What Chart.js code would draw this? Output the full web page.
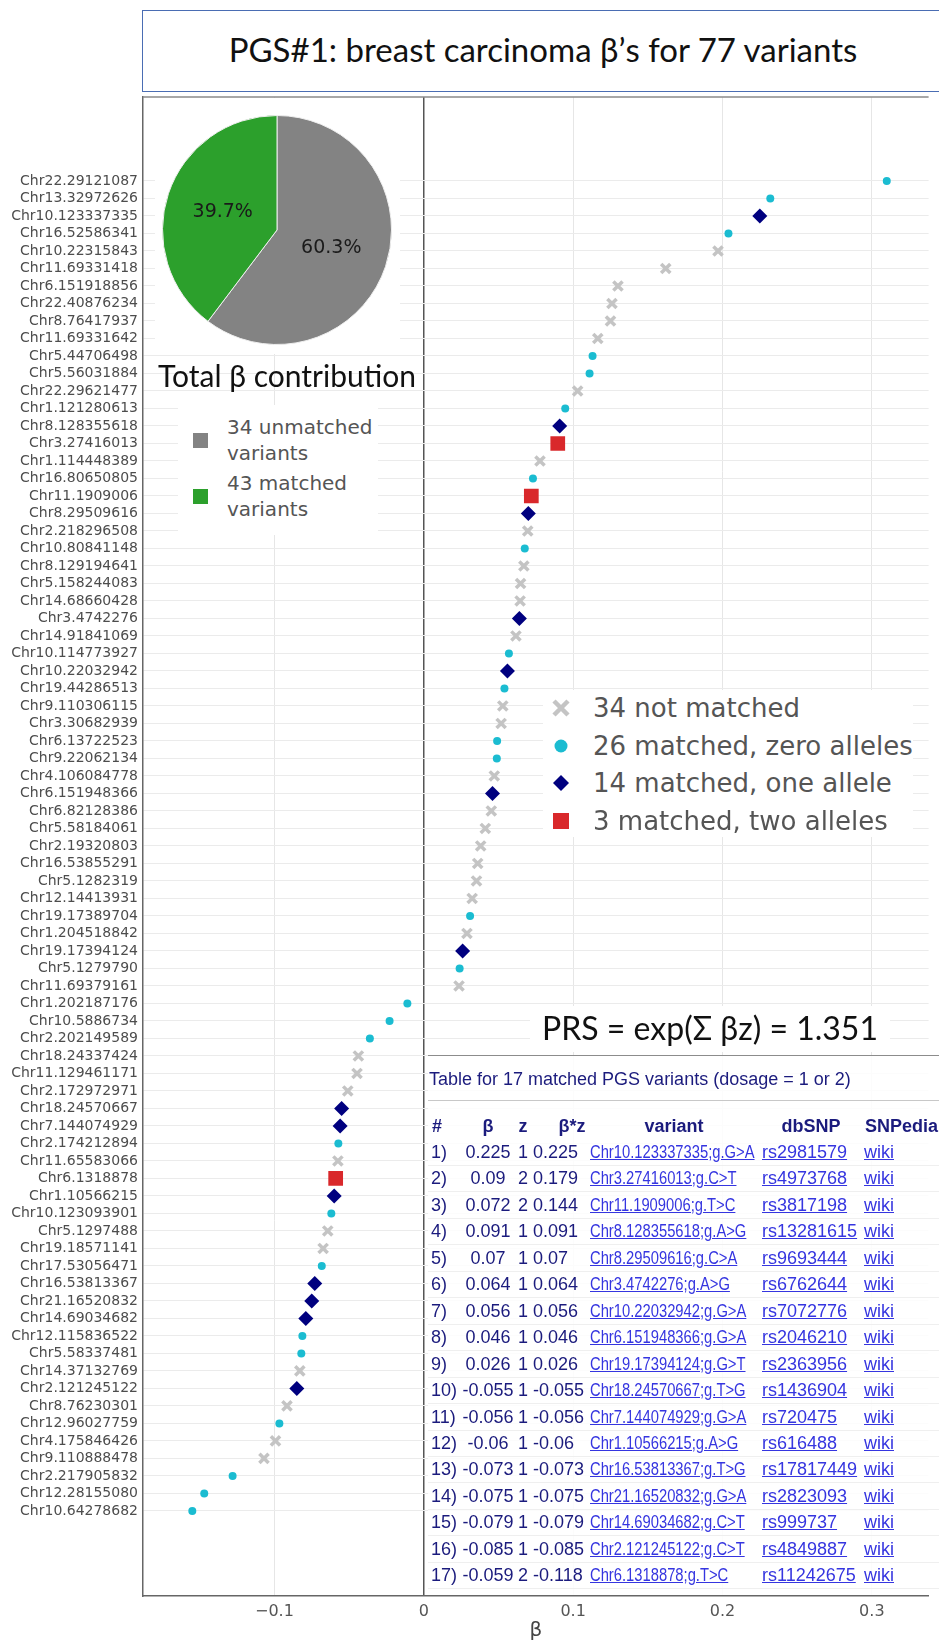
<!DOCTYPE html>
<html>
<head>
<meta charset="utf-8">
<script src="https://cdn.jsdelivr.net/npm/chart.js@4.4.0/dist/chart.umd.min.js"></script>
<style>
    body { margin: 0; background: #fff; }
    #page { position: relative; width: 939px; height: 1643px; overflow: hidden; background: #fff; }
    #beta_chart { position: absolute; left: 0; top: 0; }
    .box { position: absolute; background: #fff; }
    .calibri { font-family: Lato, "Open Sans", "Noto Sans", sans-serif; color: #111; white-space: nowrap; position: absolute; text-align: center; }
    .verdana { font-family: "DejaVu Sans", Verdana, sans-serif; color: #555; white-space: nowrap; position: absolute; }
    .tbl { position: absolute; font-family: "Liberation Sans", Arial, sans-serif; font-size: 18px; color: #1b1b7d; white-space: nowrap; height: 24px; line-height: 24px; }
    .tbl.head { font-weight: bold; }
    .tbl a { color: #3535e0; text-decoration: underline; }
    .tbl a.narrow { display: inline-block; transform: scaleX(0.82); transform-origin: left center; }
    .hline { position: absolute; height: 0; }
</style>
</head>
<body>
<div id="page">
    <canvas id="beta_chart" width="939" height="1643"></canvas>

    <div class="box" style="left:142px;top:10px;width:830px;height:82px;border:1.5px solid #4a6db3;box-sizing:border-box;"></div>
    <div class="calibri" style="left:143px;width:800px;top:29px;line-height:40px;font-size:33px;">PGS#1: breast carcinoma β’s for 77 variants</div>

    <div class="box" style="left:155px;top:98px;width:245px;height:256px;"></div>
    <canvas id="pie_chart" width="230" height="230" style="position:absolute;left:162px;top:115px;"></canvas>
    <div class="calibri" style="left:137px;width:300px;top:355px;line-height:40px;font-size:30px;">Total β contribution</div>

    <div class="box" id="pie_legend" style="left:178px;top:405px;width:200px;height:130px;"></div>
    <div class="box" id="scatter_legend" style="left:543px;top:690px;width:370px;height:147px;"></div>
    <div class="box" style="left:530px;top:1006px;width:360px;height:46px;"></div>
    <div class="calibri" style="left:460px;width:500px;top:1008px;line-height:40px;font-size:32px;">PRS = exp(Σ βz) = 1.351</div>

    <div class="box" style="left:428px;top:1056px;width:520px;height:539px;background:rgba(255,255,255,0.85);"></div>
    <div class="hline" style="left:428px;top:1055px;width:520px;border-top:1.5px solid #8c8c8c;"></div>
    <div class="hline" style="left:428px;top:1100px;width:520px;border-top:1px solid #c8c8c8;"></div>
    <div class="tbl" style="left:429px;top:1067px;">Table for 17 matched PGS variants (dosage = 1 or 2)</div>
    <div id="table_rows"></div>
</div>

<script>
;
(function () {
    // variants, top to bottom
    var variantLabels = [
        'Chr22.29121087', 'Chr13.32972626', 'Chr10.123337335', 'Chr16.52586341', 'Chr10.22315843',
        'Chr11.69331418', 'Chr6.151918856', 'Chr22.40876234', 'Chr8.76417937', 'Chr11.69331642',
        'Chr5.44706498', 'Chr5.56031884', 'Chr22.29621477', 'Chr1.121280613', 'Chr8.128355618',
        'Chr3.27416013', 'Chr1.114448389', 'Chr16.80650805', 'Chr11.1909006', 'Chr8.29509616',
        'Chr2.218296508', 'Chr10.80841148', 'Chr8.129194641', 'Chr5.158244083', 'Chr14.68660428',
        'Chr3.4742276', 'Chr14.91841069', 'Chr10.114773927', 'Chr10.22032942', 'Chr19.44286513',
        'Chr9.110306115', 'Chr3.30682939', 'Chr6.13722523', 'Chr9.22062134', 'Chr4.106084778',
        'Chr6.151948366', 'Chr6.82128386', 'Chr5.58184061', 'Chr2.19320803', 'Chr16.53855291',
        'Chr5.1282319', 'Chr12.14413931', 'Chr19.17389704', 'Chr1.204518842', 'Chr19.17394124',
        'Chr5.1279790', 'Chr11.69379161', 'Chr1.202187176', 'Chr10.5886734', 'Chr2.202149589',
        'Chr18.24337424', 'Chr11.129461171', 'Chr2.172972971', 'Chr18.24570667', 'Chr7.144074929',
        'Chr2.174212894', 'Chr11.65583066', 'Chr6.1318878', 'Chr1.10566215', 'Chr10.123093901',
        'Chr5.1297488', 'Chr19.18571141', 'Chr17.53056471', 'Chr16.53813367', 'Chr21.16520832',
        'Chr14.69034682', 'Chr12.115836522', 'Chr5.58337481', 'Chr14.37132769', 'Chr2.121245122',
        'Chr8.76230301', 'Chr12.96027759', 'Chr4.175846426', 'Chr9.110888478', 'Chr2.217905832',
        'Chr12.28155080', 'Chr10.64278682'
    ];

    var betaValues = [
        0.310, 0.232, 0.225, 0.204, 0.197, 0.162, 0.130, 0.126, 0.125, 0.1165,
        0.113, 0.111, 0.103, 0.0947, 0.091, 0.0897, 0.0778, 0.0731, 0.072, 0.070,
        0.0696, 0.0676, 0.067, 0.0648, 0.0645, 0.064, 0.0617, 0.057, 0.056, 0.054,
        0.0529, 0.0518, 0.0491, 0.0489, 0.0472, 0.046, 0.0452, 0.0412, 0.0381, 0.0361,
        0.0353, 0.0324, 0.031, 0.0289, 0.026, 0.024, 0.0236, -0.011, -0.0229, -0.0361,
        -0.0438, -0.0447, -0.0509, -0.055, -0.056, -0.0572, -0.0575, -0.059, -0.060, -0.0619,
        -0.0643, -0.0674, -0.0683, -0.073, -0.075, -0.079, -0.0813, -0.082, -0.083, -0.085,
        -0.0916, -0.0967, -0.0993, -0.107, -0.128, -0.147, -0.155
    ];

    // allele count z; null = variant not matched
    var dosage = [
        0, 0, 1, 0, null, null, null, null, null, null,
        0, 0, null, 0, 1, 2, null, 0, 2, 1,
        null, 0, null, null, null, 1, null, 0, 1, 0,
        null, null, 0, 0, null, 1, null, null, null, null,
        null, null, 0, null, 1, 0, null, 0, 0, 0,
        null, null, null, 1, 1, 0, null, 2, 1, 0,
        null, null, 0, 1, 1, 1, 0, 0, null, 1,
        null, 0, null, null, 0, 0, 0
    ];

    var xTickValues = [-0.1, 0, 0.1, 0.2, 0.3];

    var pieLabels = ['unmatched', 'matched'];
    var pieShares = [60.3, 39.7];

    var tableVariants = [
        'Chr10.123337335;g.G>A', 'Chr3.27416013;g.C>T', 'Chr11.1909006;g.T>C', 'Chr8.128355618;g.A>G',
        'Chr8.29509616;g.C>A', 'Chr3.4742276;g.A>G', 'Chr10.22032942;g.G>A', 'Chr6.151948366;g.G>A',
        'Chr19.17394124;g.G>T', 'Chr18.24570667;g.T>G', 'Chr7.144074929;g.G>A', 'Chr1.10566215;g.A>G',
        'Chr16.53813367;g.T>G', 'Chr21.16520832;g.G>A', 'Chr14.69034682;g.C>T', 'Chr2.121245122;g.C>T',
        'Chr6.1318878;g.T>C'
    ];
    var tableRsIds = [
        'rs2981579', 'rs4973768', 'rs3817198', 'rs13281615', 'rs9693444', 'rs6762644', 'rs7072776',
        'rs2046210', 'rs2363956', 'rs1436904', 'rs720475', 'rs616488', 'rs17817449', 'rs2823093',
        'rs999737', 'rs4849887', 'rs11242675'
    ];

    // marker groups
    var groupCfg = [
        { dose: null, name: 'not matched', pointStyle: 'crossRot', radius: 6.5, color: '#c4c4c4', border: 3.5 },
        { dose: 0, name: 'matched, zero alleles', pointStyle: 'circle', radius: 4, color: '#1bbcd1', border: 0 },
        { dose: 1, name: 'matched, one allele', pointStyle: 'rectRot', radius: 7.5, color: '#00007f', border: 0 },
        { dose: 2, name: 'matched, two alleles', pointStyle: 'rect', radius: 10.4, color: '#d9282b', border: 0 }
    ];

    var page = document.getElementById('page');

    function countDose(d) {
        return dosage.filter(function (v) { return v === d; }).length;
    }

    var frameTopPlugin = {
        id: 'frameTop',
        afterDraw: function (chart) {
            var a = chart.chartArea, ctx = chart.ctx;
            ctx.save();
            ctx.strokeStyle = '#8a8a8a';
            ctx.lineWidth = 1.5;
            ctx.beginPath();
            ctx.moveTo(a.left, a.top);
            ctx.lineTo(a.right, a.top);
            ctx.stroke();
            ctx.restore();
        }
    };

    new Chart(document.getElementById('beta_chart').getContext('2d'), {
        type: 'scatter',
        data: {
            datasets: groupCfg.map(function (g, gi) {
                var pts = [];
                betaValues.forEach(function (b, i) {
                    if (dosage[i] === g.dose) pts.push({ x: b, y: i });
                });
                return {
                    label: g.name,
                    data: pts,
                    order: groupCfg.length - gi,
                    pointStyle: g.pointStyle,
                    pointRadius: g.radius,
                    pointHoverRadius: g.radius,
                    backgroundColor: g.color,
                    borderColor: g.color,
                    borderWidth: g.border
                };
            })
        },
        options: {
            responsive: false,
            animation: false,
            layout: { padding: { top: 97, right: 0, bottom: 0, left: 0 } },
            plugins: { legend: { display: false }, tooltip: { enabled: false } },
            scales: {
                x: {
                    type: 'linear',
                    min: -0.188,
                    max: 0.338,
                    afterBuildTicks: function (axis) {
                        axis.ticks = xTickValues.map(function (v) { return { value: v }; });
                    },
                    afterFit: function (axis) { axis.height = 47; },
                    grid: {
                        drawTicks: false,
                        color: function (c) { return c.tick && c.tick.value === 0 ? '#555' : '#e6e6e6'; },
                        lineWidth: function (c) { return c.tick && c.tick.value === 0 ? 1.5 : 1; }
                    },
                    border: { color: '#666', width: 1.5 },
                    ticks: {
                        padding: 6,
                        color: '#555',
                        font: { family: 'DejaVu Sans', size: 16 },
                        callback: function (v) {
                            return v === 0 ? '0' : (v < 0 ? '\u2212' : '') + Math.abs(v);
                        }
                    },
                    title: {
                        display: true,
                        text: 'β',
                        color: '#444',
                        padding: { top: 0, bottom: 0 },
                        font: { family: 'DejaVu Sans', size: 20 }
                    }
                },
                y: {
                    type: 'linear',
                    reverse: true,
                    min: -4.8,
                    max: 80.86,
                    afterBuildTicks: function (axis) {
                        axis.ticks = variantLabels.map(function (l, i) { return { value: i }; });
                    },
                    afterFit: function (axis) { axis.width = 143; },
                    grid: { drawTicks: false, color: '#ebebeb', lineWidth: 1 },
                    border: { color: '#666', width: 1.5 },
                    ticks: {
                        autoSkip: false,
                        padding: 5,
                        color: '#4d4d4d',
                        font: { family: 'DejaVu Sans', size: 14 },
                        callback: function (v) { return variantLabels[v]; }
                    }
                }
            }
        },
        plugins: [frameTopPlugin]
    });

    // pie: share of total beta
    var pieLabelPlugin = {
        id: 'pieLabels',
        afterDatasetsDraw: function (chart) {
            var ctx = chart.ctx;
            var meta = chart.getDatasetMeta(0);
            ctx.save();
            ctx.fillStyle = '#1a1a1a';
            ctx.font = '19px "DejaVu Sans"';
            ctx.textAlign = 'center';
            ctx.textBaseline = 'middle';
            meta.data.forEach(function (arc, i) {
                var p = arc.tooltipPosition();
                ctx.fillText(pieShares[i].toFixed(1) + '%', p.x, p.y);
            });
            ctx.restore();
        }
    };

    new Chart(document.getElementById('pie_chart').getContext('2d'), {
        type: 'pie',
        data: {
            labels: pieLabels,
            datasets: [{
                data: pieShares,
                backgroundColor: ['#838383', '#2ca02c'],
                borderColor: '#eeeeee',
                borderWidth: 1
            }]
        },
        options: {
            responsive: false,
            animation: false,
            layout: { padding: 0 },
            plugins: { legend: { display: false }, tooltip: { enabled: false } }
        },
        plugins: [pieLabelPlugin]
    });

    function addDiv(html, style, cls) {
        var d = document.createElement('div');
        if (cls) d.className = cls;
        d.setAttribute('style', style);
        d.innerHTML = html;
        page.appendChild(d);
        return d;
    }

    // pie legend
    var nUnmatched = countDose(null);
    var nMatched = dosage.length - nUnmatched;
    var pieLegend = [
        { color: '#838383', lines: [nUnmatched + ' unmatched', 'variants'], y: 440 },
        { color: '#2ca02c', lines: [nMatched + ' matched', 'variants'], y: 496 }
    ];
    pieLegend.forEach(function (item) {
        addDiv('', 'position:absolute;left:193px;top:' + (item.y - 7.5) + 'px;width:15px;height:15px;background:' + item.color + ';');
        addDiv(item.lines.join('<br>'), 'left:227px;top:' + (item.y - 26) + 'px;font-size:20px;line-height:26px;', 'verdana');
    });

    // scatter legend
    var markerSvg = [
        '<svg width="24" height="24"><path d="M5 5 L19 19 M19 5 L5 19" stroke="#c4c4c4" stroke-width="4.5"/></svg>',
        '<svg width="24" height="24"><circle cx="12" cy="12" r="6.5" fill="#1bbcd1"/></svg>',
        '<svg width="24" height="24"><path d="M12 4 L20 12 L12 20 L4 12 Z" fill="#00007f"/></svg>',
        '<svg width="24" height="24"><rect x="4" y="4" width="16" height="16" fill="#d9282b"/></svg>'
    ];
    var legendRowY = [708, 746, 783, 821];
    groupCfg.forEach(function (g, i) {
        var y = legendRowY[i];
        addDiv(markerSvg[i], 'position:absolute;left:549px;top:' + (y - 12) + 'px;width:24px;height:24px;');
        addDiv(countDose(g.dose) + ' ' + g.name, 'left:593px;top:' + (y - 18) + 'px;font-size:26px;line-height:36px;', 'verdana');
    });

    // table of matched variants
    function fmt(v) {
        return String(Number(v.toFixed(3)));
    }

    function cell(html, x, y, align) {
        var style;
        if (align === 'center') {
            style = 'left:' + (x - 60) + 'px;width:120px;text-align:center;';
        } else {
            style = 'left:' + x + 'px;';
        }
        style += 'top:' + (y - 12) + 'px;';
        return addDiv(html, style, 'tbl');
    }

    var headY = 1126;
    [['#', 432, 'left'], ['β', 488, 'center'], ['z', 523, 'center'], ['β*z', 572, 'center'],
        ['variant', 674, 'center'], ['dbSNP', 811, 'center'], ['SNPedia', 865, 'left']].forEach(function (h) {
        cell(h[0], h[1], headY, h[2]).className = 'tbl head';
    });

    var rowTop = 1152, rowStep = 26.45;
    tableVariants.forEach(function (v, k) {
        var idx = variantLabels.indexOf(v.split(';')[0]);
        var b = betaValues[idx], z = dosage[idx];
        var y = rowTop + k * rowStep;
        addDiv('', 'left:428px;top:' + (y + 13) + 'px;width:520px;border-top:1px solid #efefef;', 'hline');
        cell((k + 1) + ')', 431, y, 'left');
        cell(fmt(b), 488, y, 'center');
        cell(String(z), 523, y, 'center');
        cell(fmt(b * z), 533, y, 'left');
        cell('<a class="narrow" href="#">' + v.replace('>', '&gt;') + '</a>', 590, y, 'left');
        cell('<a href="#">' + tableRsIds[k] + '</a>', 762, y, 'left');
        cell('<a href="#">wiki</a>', 864, y, 'left');
    });
}());
</script>
</body>
</html>
